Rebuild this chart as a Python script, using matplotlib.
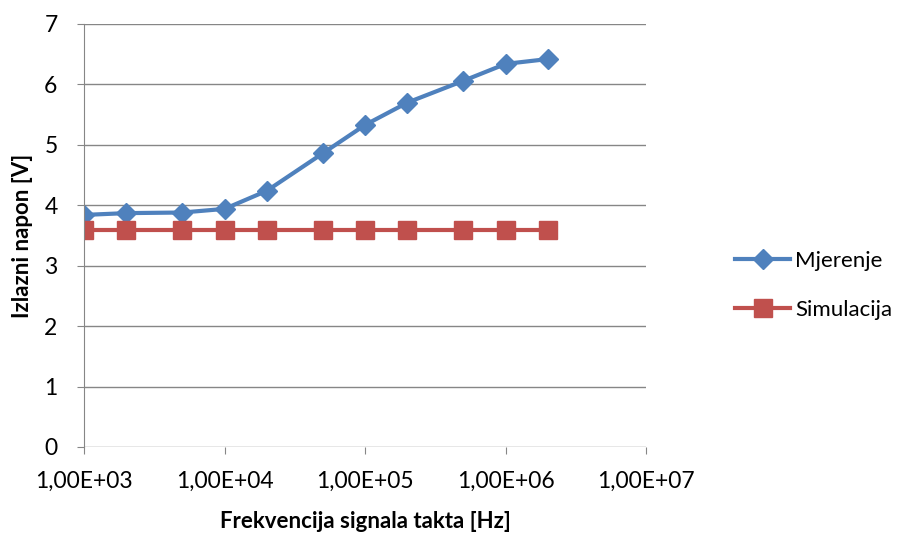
import numpy as np
import matplotlib
matplotlib.use('Agg')
from matplotlib import pyplot as plt
from matplotlib.ticker import FuncFormatter, NullLocator

plt.rcParams['font.family'] = ['Lato', 'DejaVu Sans']

freq = [1e3, 2e3, 5e3, 1e4, 2e4, 5e4, 1e5, 2e5, 5e5, 1e6, 2e6]
mjerenje = [3.84, 3.87, 3.88, 3.94, 4.24, 4.86, 5.33, 5.70, 6.06, 6.34, 6.42]
simulacija = [3.59, 3.59, 3.59, 3.59, 3.59, 3.59, 3.59, 3.59, 3.59, 3.59, 3.59]
x_ticks = [1e3, 1e4, 1e5, 1e6, 1e7]

fig = plt.figure(figsize=(9.05, 5.33), dpi=100)
ax = fig.add_axes([0.0928, 0.1614, 0.6214, 0.7936])

ax.plot(freq, mjerenje, color='#4F81BD', lw=3, marker='D', ms=10, label='Mjerenje')
ax.plot(freq, simulacija, color='#C0504D', lw=3, marker='s', ms=12.5, label='Simulacija')

ax.set_xscale('log')
ax.set_xlim(1e3, 1e7)
ax.set_ylim(0, 7)
ax.set_xticks(x_ticks)
ax.xaxis.set_minor_locator(NullLocator())
ax.xaxis.set_major_formatter(FuncFormatter(
    lambda v, p: ('%.2E' % v).replace('.', ',')))
ax.set_yticks(range(0, 8))

ax.grid(axis='y', color='#868686', lw=1)
ax.set_axisbelow(True)
for s in ['top', 'right']:
    ax.spines[s].set_visible(False)
for s in ['left', 'bottom']:
    ax.spines[s].set_color('#868686')
ax.spines['bottom'].set_visible(False)
ax.tick_params(axis='both', colors='#868686', labelcolor='black', labelsize=16.5, length=5)
ax.tick_params(axis='x', pad=12)
ax.tick_params(axis='y', pad=14)

ax.set_xlabel('Frekvencija signala takta [Hz]', fontsize=16, fontweight='bold', labelpad=14)
ax.set_ylabel('Izlazni napon [V]', fontsize=16, fontweight='bold', labelpad=8)

fig.legend(loc='center left', bbox_to_anchor=(0.812, 0.465), frameon=False,
           borderpad=0, borderaxespad=0,
           fontsize=16, handlelength=2.5, handletextpad=0.2, labelspacing=1.3)

fig.savefig('out.png', dpi=100)
